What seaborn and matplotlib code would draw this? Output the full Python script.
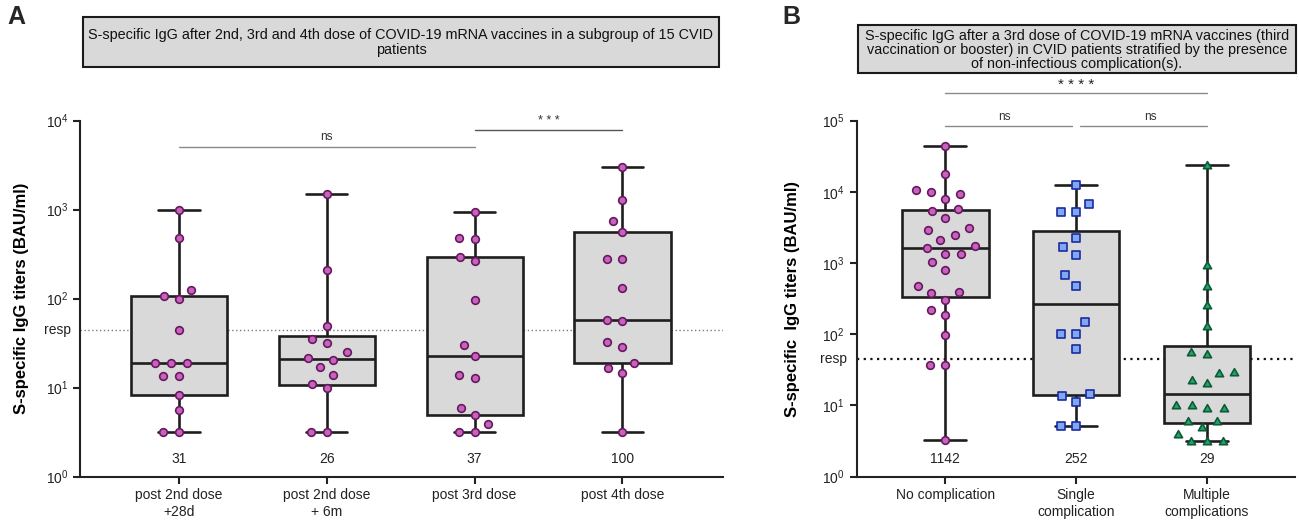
import numpy as np
import pandas as pd
import matplotlib
matplotlib.use("Agg")
import matplotlib.cbook as mcbook
import matplotlib.pyplot as plt
import seaborn as sns
from matplotlib.path import Path
from matplotlib.patches import Rectangle
from matplotlib.ticker import NullLocator
from matplotlib.transforms import blended_transform_factory

# ---------------- data ----------------
a_categories = ["post 2nd dose\n+28d", "post 2nd dose\n+ 6m", "post 3rd dose", "post 4th dose"]
a_post2_28d = [1000, 476, 125, 108, 99, 45, 19, 19, 19, 13.6, 13.6, 8.3, 5.6, 3.15, 3.15]
a_post2_6m = [1500, 212, 49, 35, 31.8, 25, 21.5, 20.6, 16.9, 14, 10.9, 9.9, 3.15, 3.15]
a_post3 = [950, 480, 464, 294, 265, 97, 29.8, 22.5, 13.9, 12.9, 5.85, 4.9, 3.9, 3.15, 3.15]
a_post4 = [2990, 1270, 752, 556, 279, 279, 132, 57, 56, 32.3, 29, 18.9, 16.6, 14.7, 3.15]
a_geomeans = ["31", "26", "37", "100"]
a_sig_labels = ["ns", "* * *"]

b_categories = ["No complication", "Single\ncomplication", "Multiple\ncomplications"]
b_none = [44700, 17700, 10500, 9900, 9270, 8060, 5770, 5400, 4320, 3060, 2900, 2490, 2120,
          1710, 1620, 1360, 1350, 1030, 795, 479, 390, 374, 305, 218, 188, 98, 36.5, 36.5, 3.23]
b_single = [12300, 6850, 5290, 5290, 2240, 1690, 1290, 684, 484, 151, 102, 102, 63,
            14.4, 13.4, 11.3, 5.08, 5.08]
b_multiple = [24200, 944, 484, 259, 130, 56, 52.6, 29.7, 28.8, 22.7, 21, 10.2, 10, 9.1, 9.1,
              5.97, 5.97, 5.0, 4.0, 3.16, 3.16, 3.16]
b_geomeans = ["1142", "252", "29"]
b_sig_labels = ["ns", "ns", "* * * *"]

resp_threshold = 45

title_a = ("S-specific IgG after 2nd, 3rd and 4th dose of COVID-19 mRNA vaccines in a subgroup of 15 CVID\n"
           "patients")
title_b = ("S-specific IgG after a 3rd dose of COVID-19 mRNA vaccines (third\n"
           "vaccination or booster) in CVID patients stratified by the presence\n"
           "of non-infectious complication(s).")
ylabel_a = "S-specific IgG titers (BAU/ml)"
ylabel_b = "S-specific  IgG titers (BAU/ml)"

# ---------------- quartiles as in the original software ((n+1)p method) ----------------
_orig_boxplot_stats = mcbook.boxplot_stats


def _prism_boxplot_stats(X, *args, **kwargs):
    stats = _orig_boxplot_stats(X, *args, **kwargs)
    if isinstance(X, (list, tuple)) and len(X) > 0 and np.ndim(X[0]) > 0:
        arrs = [np.asarray(x, dtype=float).ravel() for x in X]
    elif isinstance(X, np.ndarray) and X.dtype == object:
        arrs = [np.asarray(x, dtype=float).ravel() for x in X]
    elif np.ndim(np.asarray(X, dtype=float)) == 2:
        arrs = [np.asarray(c, dtype=float) for c in np.asarray(X, dtype=float).T]
    else:
        arrs = [np.asarray(X, dtype=float).ravel()]
    if len(arrs) == len(stats):
        for s, x in zip(stats, arrs):
            x = x[np.isfinite(x)]
            if len(x) > 2:
                s["q1"], s["med"], s["q3"] = np.percentile(x, [25, 50, 75], method="weibull")
    return stats


mcbook.boxplot_stats = _prism_boxplot_stats

# ---------------- style ----------------
sns.set_style("ticks")
plt.rcParams["font.family"] = ["Liberation Sans", "DejaVu Sans"]
plt.rcParams["mathtext.fontset"] = "custom"
plt.rcParams["mathtext.rm"] = "Liberation Sans"
plt.rcParams["mathtext.it"] = "Liberation Sans:italic"
plt.rcParams["mathtext.bf"] = "Liberation Sans:bold"

INK = "#222222"
BOX_FACE = "#d9d9d9"
BOX_LINE = "#1e1e1e"
PURPLE_F, PURPLE_E = "#c862bd", "#651a5f"
BLUE_F, BLUE_E = "#80a8f2", "#1b2c9e"
GREEN_F, GREEN_E = "#24a468", "#0c5a37"


def small_marker(kind, frac):
    """Marker whose visible shape is `frac` of its nominal size (so swarm spacing is wider)."""
    if kind == "o":
        c = Path.circle((0, 0), frac)
        verts = np.vstack([[1.0, 1.0], c.vertices])
        codes = np.concatenate([[Path.MOVETO], c.codes])
    elif kind == "s":
        r = frac * 0.92
        verts = [[1, 1], [-r, -r], [r, -r], [r, r], [-r, r], [-r, -r]]
        codes = [Path.MOVETO, Path.MOVETO, Path.LINETO, Path.LINETO, Path.LINETO, Path.CLOSEPOLY]
    else:
        r = frac * 1.05
        verts = [[1, 1], [0, 0.95 * r], [-r, -0.8 * r], [r, -0.8 * r], [0, 0.95 * r]]
        codes = [Path.MOVETO, Path.MOVETO, Path.LINETO, Path.LINETO, Path.CLOSEPOLY]
    return Path(np.asarray(verts, float), codes)


fig = plt.figure(figsize=(12.99, 5.29), dpi=100)
axA = fig.add_axes([0.0616, 0.0989, 0.4950, 0.6730])
axB = fig.add_axes([0.6595, 0.0989, 0.3374, 0.6730])

dfA = pd.DataFrame({
    "group": np.repeat(a_categories, [len(a_post2_28d), len(a_post2_6m), len(a_post3), len(a_post4)]),
    "titer": np.concatenate([a_post2_28d, a_post2_6m, a_post3, a_post4]),
})
dfB = pd.DataFrame({
    "group": np.repeat(b_categories, [len(b_none), len(b_single), len(b_multiple)]),
    "titer": np.concatenate([b_none, b_single, b_multiple]),
})


def style_axis(ax, decades, xlim):
    ax.set_xlim(*xlim)
    ax.set_ylim(1, 10 ** decades)
    ticks = [10 ** k for k in range(decades + 1)]
    ax.set_yticks(ticks)
    ax.set_yticklabels([r"10$^{%d}$" % k for k in range(decades + 1)])
    ax.yaxis.set_minor_locator(NullLocator())
    for side in ["top", "right"]:
        ax.spines[side].set_visible(False)
    for side in ["left", "bottom"]:
        ax.spines[side].set_linewidth(1.5)
        ax.spines[side].set_color(INK)
    ax.tick_params(axis="both", which="major", direction="out", length=5, width=1.5,
                   color=INK, labelsize=10, labelcolor=INK)
    ax.set_xlabel("")


MSIZE = 9.5
MFRAC = 0.58

# ---------------- panel A ----------------
axA.set_yscale("log")
axA.axhline(resp_threshold, color="#7a7a7a", lw=1.0, ls=(0, (1, 1.8)), zorder=1)
sns.boxplot(data=dfA, x="group", y="titer", order=a_categories, width=0.65, whis=(0, 100),
            showfliers=False, color=BOX_FACE, linecolor=BOX_LINE, linewidth=1.9, saturation=1,
            capwidths=0.28, ax=axA)
sns.swarmplot(data=dfA, x="group", y="titer", order=a_categories, size=MSIZE,
              marker=small_marker("o", MFRAC), color=PURPLE_F, edgecolor=PURPLE_E, linewidth=1.2,
              zorder=3, ax=axA)
style_axis(axA, 4, (-0.668, 3.68))
axA.set_ylabel(ylabel_a, fontsize=12, fontweight="bold", color="black")
axA.yaxis.set_label_coords(-0.080, 0.5)

tA = blended_transform_factory(axA.transData, axA.transAxes)
for i, g in enumerate(a_geomeans):
    axA.text(i, 0.05, g, transform=tA, ha="center", va="center", fontsize=10, color=INK)
rA = blended_transform_factory(axA.transAxes, axA.transData)
axA.text(-0.014, resp_threshold, "resp", transform=rA, ha="right", va="center", fontsize=10, color=INK)

# significance bars A
axA.plot([0, 2], [5100, 5100], color="#8a8a8a", lw=1.0, clip_on=False)
axA.text(1, 6500, a_sig_labels[0], ha="center", va="center", fontsize=8.5, color="#333333")
axA.plot([2, 3], [7870, 7870], color="#555555", lw=1.0, clip_on=False)
axA.text(2.5, 9800, a_sig_labels[1], ha="center", va="center", fontsize=9, color="#333333",
         clip_on=False)

# ---------------- panel B ----------------
axB.set_yscale("log")
axB.axhline(resp_threshold, color="#111111", lw=1.6, ls=(0, (1, 2.0)), zorder=1)
sns.boxplot(data=dfB, x="group", y="titer", order=b_categories, width=0.66, whis=(0, 100),
            showfliers=False, color=BOX_FACE, linecolor=BOX_LINE, linewidth=1.9, saturation=1,
            capwidths=0.32, ax=axB)
b_series = [(b_none, "o", PURPLE_F, PURPLE_E),
            (b_single, "s", BLUE_F, BLUE_E),
            (b_multiple, "^", GREEN_F, GREEN_E)]
for cat, (_, mk, fc, ec) in zip(b_categories, b_series):
    sub = dfB[dfB["group"] == cat]
    sns.swarmplot(data=sub, x="group", y="titer", order=b_categories, size=MSIZE,
                  marker=small_marker(mk, MFRAC), color=fc, edgecolor=ec, linewidth=1.2,
                  zorder=3, ax=axB)
style_axis(axB, 5, (-0.678, 2.673))
axB.set_ylabel(ylabel_b, fontsize=12, fontweight="bold", color="black")
axB.yaxis.set_label_coords(-0.130, 0.5)

tB = blended_transform_factory(axB.transData, axB.transAxes)
for i, g in enumerate(b_geomeans):
    axB.text(i, 0.05, g, transform=tB, ha="center", va="center", fontsize=10, color=INK)
rB = blended_transform_factory(axB.transAxes, axB.transData)
axB.text(-0.021, resp_threshold, "resp", transform=rB, ha="right", va="center", fontsize=10, color=INK)

# significance bars B
axB.plot([0, 0.97], [83500, 83500], color="#8a8a8a", lw=1.0, clip_on=False)
axB.plot([1.03, 2], [83500, 83500], color="#8a8a8a", lw=1.0, clip_on=False)
axB.text(0.45, 114000, b_sig_labels[0], ha="center", va="center", fontsize=8.5, color="#333333",
         clip_on=False)
axB.text(1.57, 114000, b_sig_labels[1], ha="center", va="center", fontsize=8.5, color="#333333",
         clip_on=False)
axB.plot([0, 2], [244000, 244000], color="#8a8a8a", lw=1.0, clip_on=False)
axB.text(1, 320000, b_sig_labels[2], ha="center", va="center", fontsize=11, color="#222222",
         clip_on=False)

# ---------------- title boxes & panel letters ----------------
W, H = 1299.0, 529.0
fig.patches.append(Rectangle((83 / W, 1 - 67 / H), 636 / W, 50 / H, transform=fig.transFigure,
                             facecolor=BOX_FACE, edgecolor="#1a1a1a", lw=1.5, zorder=0))
fig.text(401 / W, 1 - 42.5 / H, title_a, ha="center", va="center", fontsize=10.4,
         linespacing=1.02, color="#111111")
fig.patches.append(Rectangle((858 / W, 1 - 73 / H), 438 / W, 48 / H, transform=fig.transFigure,
                             facecolor=BOX_FACE, edgecolor="#1a1a1a", lw=1.5, zorder=0))
fig.text(1077 / W, 1 - 50 / H, title_b, ha="center", va="center", fontsize=10.4,
         linespacing=1.02, color="#111111")

fig.text(7 / W, 1 - 5 / H, "A", ha="left", va="top", fontsize=18, fontweight="bold")
fig.text(782 / W, 1 - 5 / H, "B", ha="left", va="top", fontsize=18, fontweight="bold")

fig.savefig("out.png", dpi=100)
